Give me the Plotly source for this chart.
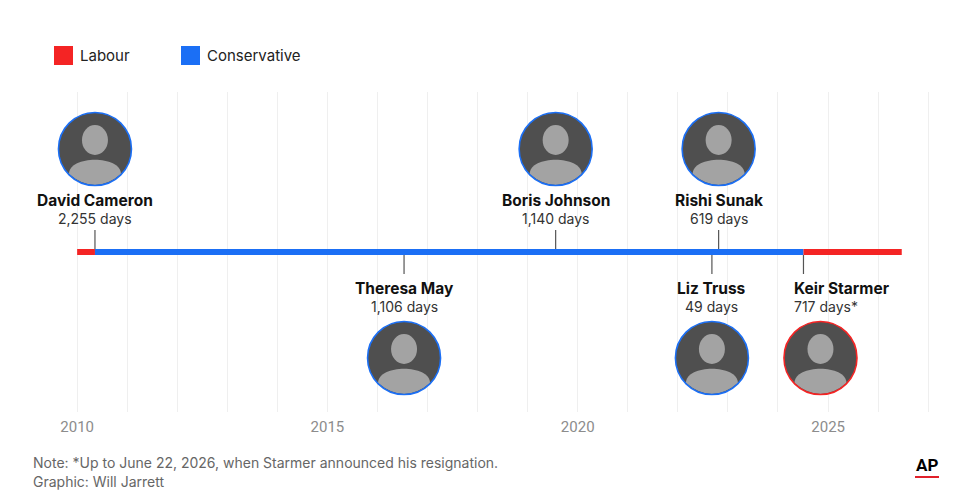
import plotly.graph_objects as go

# ---------------- data ----------------
party_names = ["Labour", "Conservative"]
party_colors = {"Labour": "#f42424", "Conservative": "#1b6ff5"}

seg_party = ["Labour", "Conservative", "Labour"]
seg_start = ["2010-01-01", "2010-05-11", "2024-07-05"]
seg_end = ["2010-05-11", "2024-07-05", "2026-06-22"]

pm_names = ["David Cameron", "Theresa May", "Boris Johnson", "Liz Truss", "Rishi Sunak", "Keir Starmer"]
pm_days = [2255, 1106, 1140, 49, 619, 717]
pm_note = ["", "", "", "", "", "*"]
pm_start = ["2010-05-11", "2016-07-13", "2019-07-24", "2022-09-06", "2022-10-25", "2024-07-05"]
pm_party = ["Conservative", "Conservative", "Conservative", "Conservative", "Conservative", "Labour"]
pm_side = ["above", "below", "above", "below", "above", "below"]

tick_years = ["2010", "2015", "2020", "2025"]

note_text = "Note: *Up to June 22, 2026, when Starmer announced his resignation."
credit_text = "Graphic: Will Jarrett"

# ---------------- figure ----------------
# page has an 8px body margin; figure coordinates = page coordinates - 8
OFF = 8
W, H = 980 - OFF, 504 - OFF
PLOT_L, PLOT_R, PLOT_T, PLOT_B = 50, 950, 92, 412   # page pixels
ML, MR, MT, MB = PLOT_L - OFF, W - (PLOT_R - OFF), PLOT_T - OFF, H - (PLOT_B - OFF)
PW, PH = PLOT_R - PLOT_L, PLOT_B - PLOT_T

fig = go.Figure()

for p, s, e in zip(seg_party, seg_start, seg_end):
    fig.add_trace(go.Scatter(
        x=[s, e], y=[0, 0], mode="lines",
        line=dict(color=party_colors[p], width=6),
        hoverinfo="skip", showlegend=False,
    ))

shapes = []
annotations = []

MAIN_FONT = "Inter"
R = 36.5

for name, days, note, start, party, side in zip(pm_names, pm_days, pm_note, pm_start, pm_party, pm_side):
    sgn = 1 if side == "above" else -1
    col = party_colors[party]
    # connector
    shapes.append(dict(type="line", xref="x", yref="y", xsizemode="pixel", ysizemode="pixel",
                       xanchor=start, yanchor=0, x0=0, x1=0, y0=sgn * 3, y1=sgn * 22,
                       line=dict(color="#555555", width=1.2)))
    is_last = name == pm_names[-1]
    txshift = -11 if is_last else 0
    xanc = "left" if is_last else "center"
    name_shift = 52 if sgn > 0 else -36
    days_shift = 34 if sgn > 0 else -54
    annotations.append(dict(x=start, y=0, xref="x", yref="y", text="<b>" + name + "</b>",
                            showarrow=False, xanchor=xanc, yanchor="middle",
                            xshift=txshift, yshift=name_shift,
                            font=dict(family=MAIN_FONT, size=15.5, color="#111111")))
    annotations.append(dict(x=start, y=0, xref="x", yref="y", text=f"{days:,} days{note}",
                            showarrow=False, xanchor=xanc, yanchor="middle",
                            xshift=txshift, yshift=days_shift,
                            font=dict(family=MAIN_FONT, size=14, color="#333333")))
    # photo placeholder
    cx = 17 if is_last else 0
    cy = 103 if sgn > 0 else -106
    base = dict(xref="x", yref="y", xsizemode="pixel", ysizemode="pixel", xanchor=start, yanchor=0)
    shapes.append(dict(type="circle", **base, x0=cx - R, x1=cx + R, y0=cy - R, y1=cy + R,
                       fillcolor="#4f4f4f", line=dict(width=0)))
    shapes.append(dict(type="circle", **base, x0=cx - 13, x1=cx + 13, y0=cy - 6, y1=cy + 24,
                       fillcolor="#a3a3a3", line=dict(width=0)))
    shoulders = (f"M {cx-26},{cy-25} C {cx-26},{cy-6} {cx+26},{cy-6} {cx+26},{cy-25} "
                 f"Q {cx},{cy-47} {cx-26},{cy-25} Z")
    shapes.append(dict(type="path", **base, path=shoulders, fillcolor="#a3a3a3", line=dict(width=0)))
    shapes.append(dict(type="circle", **base, x0=cx - R, x1=cx + R, y0=cy - R, y1=cy + R,
                       fillcolor="rgba(0,0,0,0)", line=dict(color=col, width=1.6)))

# legend (drawn manually), positions given in page pixels
def px2paper_x(px):
    return (px - PLOT_L) / PW

def px2paper_y(py):
    return (PLOT_B - py) / PH

leg_x = [54, 181]
for pname, lx in zip(party_names, leg_x):
    shapes.append(dict(type="rect", xref="paper", yref="paper",
                       x0=px2paper_x(lx), x1=px2paper_x(lx + 19),
                       y0=px2paper_y(65), y1=px2paper_y(46),
                       fillcolor=party_colors[pname], line=dict(width=0)))
    annotations.append(dict(x=px2paper_x(lx + 24), y=px2paper_y(56), xref="paper", yref="paper",
                            text=pname, showarrow=False, xanchor="left", yanchor="middle",
                            font=dict(family=MAIN_FONT, size=15, color="#222222")))

# footer
annotations.append(dict(x=px2paper_x(31), y=px2paper_y(462), xref="paper", yref="paper",
                        text=note_text, showarrow=False, xanchor="left", yanchor="middle",
                        font=dict(family=MAIN_FONT, size=14, color="#666666")))
annotations.append(dict(x=px2paper_x(31), y=px2paper_y(481), xref="paper", yref="paper",
                        text=credit_text, showarrow=False, xanchor="left", yanchor="middle",
                        font=dict(family=MAIN_FONT, size=14, color="#666666")))
# AP logo
annotations.append(dict(x=px2paper_x(927), y=px2paper_y(465), xref="paper", yref="paper",
                        text="<b>AP</b>", showarrow=False, xanchor="center", yanchor="middle",
                        font=dict(family="Roboto", size=17, color="#000000")))
shapes.append(dict(type="line", xref="paper", yref="paper",
                   x0=px2paper_x(915), x1=px2paper_x(939), y0=px2paper_y(477), y1=px2paper_y(477),
                   line=dict(color="#e0202a", width=2)))

fig.update_layout(
    width=W, height=H,
    margin=dict(l=ML, r=MR, t=MT, b=MB),
    paper_bgcolor="white", plot_bgcolor="white",
    shapes=shapes, annotations=annotations,
    showlegend=False,
    xaxis=dict(
        type="date", range=["2009-06-17", "2027-06-09"],
        tickmode="array", tickvals=[y + "-01-01" for y in tick_years], ticktext=tick_years,
        showgrid=True, gridcolor="#efefef", gridwidth=1,
        minor=dict(dtick="M12", tick0="2010-01-01", showgrid=True, gridcolor="#efefef", gridwidth=1),
        zeroline=False, showline=False, ticks="",
        tickfont=dict(family="Roboto", size=15, color="#8c8c8c"),
        ticklabelstandoff=4,
    ),
    yaxis=dict(range=[-1, 1], visible=False, showgrid=False, zeroline=False, fixedrange=True),
)

fig.write_html("out.html")
